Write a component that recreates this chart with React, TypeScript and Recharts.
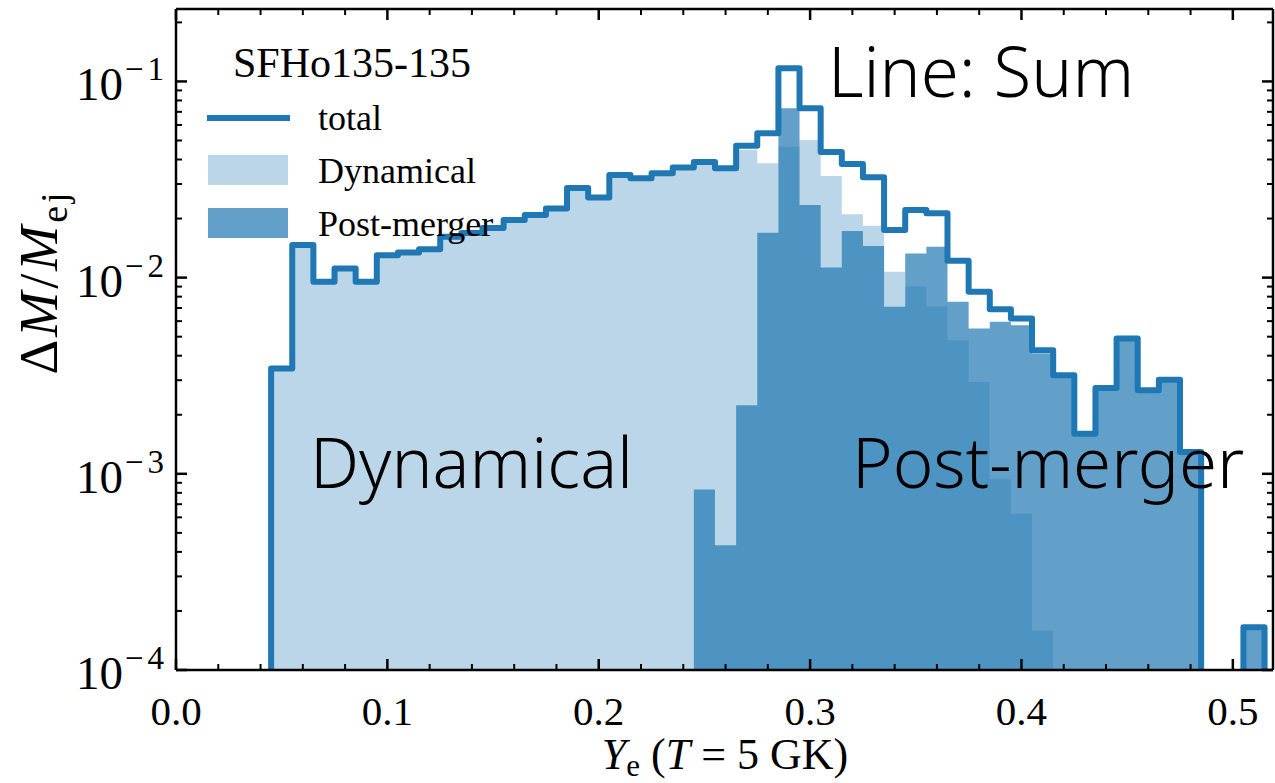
import React from "react";
import { ComposedChart, Area, Line, XAxis, YAxis } from "recharts";

// left edges of the Ye bins (width 0.01)
const binEdges = [
  0.045, 0.055, 0.065, 0.075, 0.085, 0.095, 0.105, 0.115, 0.125, 0.135,
  0.145, 0.155, 0.165, 0.175, 0.185, 0.195, 0.205, 0.215, 0.225, 0.235,
  0.245, 0.255, 0.265, 0.275, 0.285, 0.295, 0.305, 0.315, 0.325, 0.335,
  0.345, 0.355, 0.365, 0.375, 0.385, 0.395, 0.405, 0.415, 0.425, 0.435,
  0.445, 0.455, 0.465, 0.475, 0.485, 0.495, 0.505,
];
const lastEdge = 0.515;

const totalVals = [
  0.00344, 0.01465, 0.00952, 0.01114, 0.00952, 0.01302, 0.01341, 0.01397, 0.01615, 0.01687,
  0.01789, 0.01965, 0.02084, 0.02249, 0.02861, 0.02559, 0.03334, 0.03207, 0.03401, 0.0364,
  0.03884, 0.03606, 0.04704, 0.05439, 0.1168, 0.073, 0.04368, 0.03794, 0.03245, 0.01747,
  0.0221, 0.02126, 0.01218, 0.008465, 0.006909, 0.006189, 0.004267, 0.003181, 0.0016, 0.002741,
  0.004895, 0.002667, 0.003016, 0.001292, 0, 0, 0.000165,
];

const dynamicalVals = [
  0.00344, 0.01465, 0.00952, 0.01114, 0.00952, 0.01302, 0.01341, 0.01397, 0.01615, 0.01687,
  0.01789, 0.01965, 0.02084, 0.02249, 0.02861, 0.02559, 0.03334, 0.03207, 0.03401, 0.0364,
  0.038, 0.0356, 0.0448, 0.03825, 0.04649, 0.05028, 0.03295, 0.02101, 0.01838, 0.01071,
  0.00905, 0.007155, 0.004798, 0.00294, 0.000945, 0.000626, 0.000159, 0, 0, 0,
  0, 0, 0, 0, 0, 0, 0,
];

const postMergerVals = [
  0, 0, 0, 0, 0, 0, 0, 0, 0, 0,
  0, 0, 0, 0, 0, 0, 0, 0, 0, 0,
  0.000831, 0.000432, 0.002237, 0.01693, 0.073, 0.02344, 0.01127, 0.01727, 0.01448, 0.007096,
  0.01329, 0.01436, 0.007525, 0.005506, 0.00595, 0.005725, 0.0041, 0.003181, 0.0016, 0.002741,
  0.004895, 0.002667, 0.003016, 0.001292, 0, 0, 0.000165,
];

const xTicks = [
  0, 0.02, 0.04, 0.06, 0.08, 0.1, 0.12, 0.14, 0.16, 0.18, 0.2, 0.22, 0.24, 0.26,
  0.28, 0.3, 0.32, 0.34, 0.36, 0.38, 0.4, 0.42, 0.44, 0.46, 0.48, 0.5,
];
const yTicks = [
  1e-4, 2e-4, 3e-4, 4e-4, 5e-4, 6e-4, 7e-4, 8e-4, 9e-4,
  1e-3, 2e-3, 3e-3, 4e-3, 5e-3, 6e-3, 7e-3, 8e-3, 9e-3,
  1e-2, 2e-2, 3e-2, 4e-2, 5e-2, 6e-2, 7e-2, 8e-2, 9e-2,
  1e-1, 2e-1,
];

const X_DOMAIN = [0, 0.519];
const Y_DOMAIN = [1e-4, 0.234];
const FLOOR = 1e-6; // empty bins drop below the axis (clipped)

const BLUE = "#1f77b4";
const SERIF = "'Liberation Serif', 'Times New Roman', serif";
const SANS = "'Noto Sans', 'DejaVu Sans', sans-serif";

const W = 1275;
const H = 783;

const f = (v: number) => (v > 0 ? v : FLOOR);
const data = [
  { x: binEdges[0], total: FLOOR, dyn: FLOOR, post: FLOOR },
  ...binEdges.map((e, i) => ({
    x: e,
    total: f(totalVals[i]),
    dyn: f(dynamicalVals[i]),
    post: f(postMergerVals[i]),
  })),
  { x: lastEdge, total: FLOOR, dyn: FLOOR, post: FLOOR },
];

const isMajorX = (v: number) => Math.abs(v * 10 - Math.round(v * 10)) < 1e-6;
const isMajorY = (v: number) => {
  const m = v / Math.pow(10, Math.floor(Math.log10(v) + 1e-9));
  return Math.abs(m - 1) < 1e-6;
};

const XTick = (props: any) => {
  const { x, y, payload, side } = props;
  const v = payload.value;
  const major = isMajorX(v);
  const len = major ? 11 : 6;
  const dir = side === "top" ? 1 : -1;
  return (
    <g>
      <line x1={x} x2={x} y1={y} y2={y + dir * len} stroke="#000" strokeWidth={major ? 2.5 : 2} />
      {major && side !== "top" && (
        <text x={x} y={y + 55} textAnchor="middle" fontFamily={SERIF} fontSize={41} fill="#000">
          {v.toFixed(1)}
        </text>
      )}
    </g>
  );
};

const YTick = (props: any) => {
  const { x, y, payload, side } = props;
  const v = payload.value;
  const major = isMajorY(v);
  const len = major ? 11 : 6;
  const dir = side === "right" ? -1 : 1;
  const exp = Math.round(Math.log10(v));
  return (
    <g>
      <line x1={x} x2={x + dir * len} y1={y} y2={y} stroke="#000" strokeWidth={major ? 2.5 : 2} />
      {major && side !== "right" && (
        <text x={x - 8} y={y + 19} textAnchor="end" fontFamily={SERIF} fontSize={47} fill="#000">
          10
          <tspan dy={-20} dx={2} fontSize={33} letterSpacing={4}>
            {"\u2212" + Math.abs(exp)}
          </tspan>
        </text>
      )}
    </g>
  );
};

const Overlay = () => (
  <svg
    width={W}
    height={H}
    style={{ position: "absolute", left: 0, top: 0, pointerEvents: "none" }}
  >
    {/* legend */}
    <text x={233} y={77} fontFamily={SERIF} fontSize={42} fill="#000">
      SFHo135-135
    </text>
    <line x1={207} x2={290} y1={118} y2={118} stroke={BLUE} strokeWidth={6} />
    <text x={318} y={130} fontFamily={SERIF} fontSize={36} fill="#000">
      total
    </text>
    <rect x={208} y={155} width={80} height={30} fill={BLUE} fillOpacity={0.3} />
    <text x={318} y={183} fontFamily={SERIF} fontSize={36} fill="#000">
      Dynamical
    </text>
    <rect x={208} y={208} width={80} height={30} fill={BLUE} fillOpacity={0.7} />
    <text x={318} y={236} fontFamily={SERIF} fontSize={36} fill="#000">
      Post-merger
    </text>

    {/* annotations */}
    <text x={828} y={97} fontFamily={SANS} fontSize={69} fontWeight={300} fill="#000">
      Line: Sum
    </text>
    <text x={310} y={488} fontFamily={SANS} fontSize={69} fontWeight={300} fill="#000">
      Dynamical
    </text>
    <text x={852} y={488} fontFamily={SANS} fontSize={69} fontWeight={300} fill="#000">
      Post-merger
    </text>

    {/* axis labels */}
    <text x={725} y={769} textAnchor="middle" fontFamily={SERIF} fontSize={44} fill="#000">
      <tspan fontStyle="italic">Y</tspan>
      <tspan dy={7} fontSize={31}>e</tspan>
      <tspan dy={-7}> (</tspan>
      <tspan fontStyle="italic">T</tspan>
      <tspan> = 5 GK)</tspan>
    </text>
    <text
      x={0}
      y={0}
      transform="translate(57, 282) rotate(-90)"
      textAnchor="middle"
      fontFamily={SERIF}
      fontSize={54}
      letterSpacing={3}
      fill="#000"
    >
      <tspan>Δ</tspan>
      <tspan fontStyle="italic">M</tspan>
      <tspan>/</tspan>
      <tspan fontStyle="italic">M</tspan>
      <tspan dy={10} fontSize={38}>ej</tspan>
    </text>
  </svg>
);

export default function App() {
  return (
    <div style={{ position: "absolute", left: 0, top: 0, width: W, height: H, background: "#fff" }}>
      <ComposedChart width={W} height={H} data={data} margin={{ top: 8, right: 1, left: 0, bottom: 0 }}>
        <XAxis
          dataKey="x"
          type="number"
          domain={X_DOMAIN}
          allowDataOverflow
          ticks={xTicks}
          interval={0}
          height={113}
          tickSize={0}
          tickMargin={0}
          tickLine={false}
          axisLine={{ stroke: "#000", strokeWidth: 2.5 }}
          tick={<XTick side="bottom" />}
        />
        <XAxis
          xAxisId="top"
          orientation="top"
          dataKey="x"
          type="number"
          domain={X_DOMAIN}
          allowDataOverflow
          ticks={xTicks}
          interval={0}
          height={1}
          tickSize={0}
          tickMargin={0}
          tickLine={false}
          axisLine={{ stroke: "#000", strokeWidth: 2.5 }}
          tick={<XTick side="top" />}
        />
        <YAxis
          type="number"
          scale="log"
          domain={Y_DOMAIN}
          allowDataOverflow
          ticks={yTicks}
          interval={0}
          width={176}
          tickSize={0}
          tickMargin={0}
          tickLine={false}
          axisLine={{ stroke: "#000", strokeWidth: 2.5 }}
          tick={<YTick side="left" />}
        />
        <YAxis
          yAxisId="right"
          orientation="right"
          type="number"
          scale="log"
          domain={Y_DOMAIN}
          allowDataOverflow
          ticks={yTicks}
          interval={0}
          width={1}
          tickSize={0}
          tickMargin={0}
          tickLine={false}
          axisLine={{ stroke: "#000", strokeWidth: 2.5 }}
          tick={<YTick side="right" />}
        />
        <Area
          type="stepAfter"
          dataKey="dyn"
          stroke="none"
          fill={BLUE}
          fillOpacity={0.3}
          baseValue={1e-4}
          isAnimationActive={false}
        />
        <Area
          type="stepAfter"
          dataKey="post"
          stroke="none"
          fill={BLUE}
          fillOpacity={0.7}
          baseValue={1e-4}
          isAnimationActive={false}
        />
        <Line
          type="stepAfter"
          dataKey="total"
          stroke={BLUE}
          strokeWidth={6}
          strokeLinejoin="round"
          dot={false}
          activeDot={false}
          isAnimationActive={false}
        />
        {/* invisible copy that ties the mirrored top/right axes to the data */}
        <Line
          xAxisId="top"
          yAxisId="right"
          type="stepAfter"
          dataKey="total"
          stroke="none"
          dot={false}
          activeDot={false}
          legendType="none"
          isAnimationActive={false}
        />
      </ComposedChart>
      <Overlay />
    </div>
  );
}
